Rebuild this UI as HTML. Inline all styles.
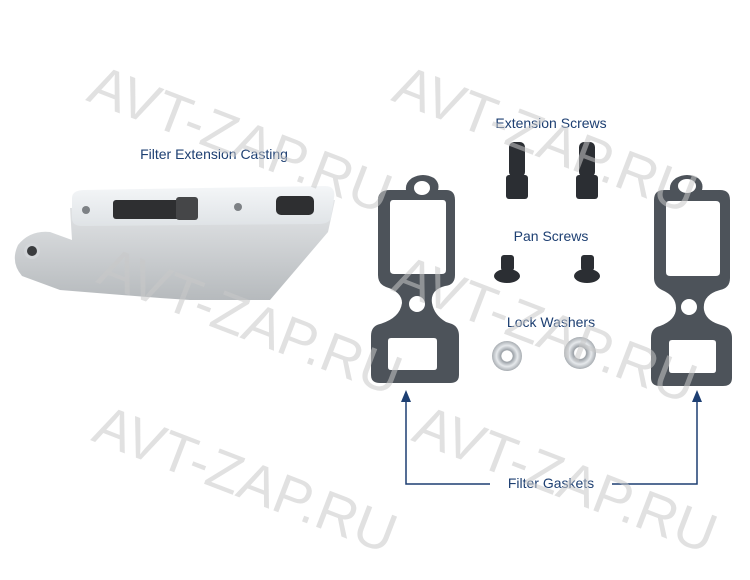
<!DOCTYPE html>
<html><head><style>
body{margin:0;background:#fff;}
svg{display:block;font-family:"Liberation Sans",sans-serif;}
</style></head><body>
<svg width="750" height="580" viewBox="0 0 750 580">
<defs>
<linearGradient id="al" x1="0" y1="0" x2="0" y2="1"><stop offset="0" stop-color="#e4e6e8"/><stop offset="1" stop-color="#b6babd"/></linearGradient>
<linearGradient id="top" x1="0" y1="0" x2="0" y2="1"><stop offset="0" stop-color="#f4f6f8"/><stop offset="1" stop-color="#dfe3e6"/></linearGradient>
<radialGradient id="wash"><stop offset="0.35" stop-color="#fff"/><stop offset="0.4" stop-color="#9aa0a6"/><stop offset="0.7" stop-color="#e6e9ec"/><stop offset="1" stop-color="#a8adb2"/></radialGradient>
</defs>
<!-- casting -->
<path d="M70 208 L335 200 L328 232 L270 300 L190 300 L160 298 L60 290 L22 276 Q10 262 18 245 Q30 230 50 232 L72 240 Z" fill="url(#al)"/>
<path d="M72 198 Q72 190 85 190 L325 186 Q336 186 334 198 L331 218 Q329 224 318 224 L82 226 Q72 226 72 218 Z" fill="url(#top)"/>
<rect x="113" y="200" width="85" height="19" rx="3" fill="#2e2f31"/>
<rect x="176" y="197" width="22" height="23" rx="3" fill="#454648"/>
<rect x="276" y="196" width="38" height="19" rx="5" fill="#2e2f31"/>
<circle cx="86" cy="210" r="4" fill="#7d8185"/>
<circle cx="238" cy="207" r="4" fill="#7d8185"/>
<circle cx="32" cy="251" r="8" fill="#d3d6d9"/><circle cx="32" cy="251" r="5" fill="#3a3c3e"/>
<!-- gaskets -->
<g fill="#4d535a" fill-rule="evenodd">
<path d="M412 178 Q423 172 434 178 Q440 183 438 190 L446 190 Q455 190 455 200 L455 275 Q455 285 445 286 Q430 290 432 303 Q434 315 446 322 L452 324 Q459 327 459 336 L459 375 Q459 383 450 383 L380 383 Q371 383 371 375 L371 336 Q371 326 380 324 Q400 318 402 303 Q402 292 386 287 Q378 284 378 275 L378 200 Q378 190 390 190 L406 190 Q405 183 412 178 Z M414 188 a8 7 0 1 0 16 0 a8 7 0 1 0 -16 0 Z M393 200 L443 200 Q446 200 446 204 L446 270 Q446 274 442 274 L394 274 Q390 274 390 270 L390 204 Q390 200 393 200 Z M409 304 a8 8 0 1 0 16 0 a8 8 0 1 0 -16 0 Z M388 341 Q388 338 391 338 L434 338 Q437 338 437 341 L437 367 Q437 370 434 370 L391 370 Q388 370 388 367 Z"/>
<path d="M676 178 Q687 172 698 178 Q704 183 702 190 L720 190 Q730 190 730 200 L730 278 Q730 288 720 290 Q702 295 704 310 Q706 320 718 324 L724 326 Q732 329 732 338 L732 378 Q732 386 723 386 L660 386 Q651 386 651 378 L651 338 Q651 328 660 326 Q676 320 676 308 Q676 296 662 290 Q654 286 654 278 L654 200 Q654 190 664 190 L670 190 Q669 183 676 178 Z M678 186 a9 7 0 1 0 18 0 a9 7 0 1 0 -18 0 Z M669 201 L716 201 Q720 201 720 205 L720 272 Q720 276 716 276 L670 276 Q666 276 666 272 L666 205 Q666 201 669 201 Z M681 307 a8 8 0 1 0 16 0 a8 8 0 1 0 -16 0 Z M669 343 Q669 340 672 340 L713 340 Q716 340 716 343 L716 370 Q716 373 713 373 L672 373 Q669 373 669 370 Z"/>
</g>
<!-- screws -->
<g fill="#2b2e33">
<rect x="509" y="142" width="16" height="35" rx="5"/><rect x="506" y="175" width="22" height="24" rx="3"/>
<rect x="579" y="142" width="16" height="35" rx="5"/><rect x="576" y="175" width="22" height="24" rx="3"/>
<rect x="501" y="255" width="13" height="16" rx="3"/><ellipse cx="507" cy="276" rx="13" ry="7"/>
<rect x="581" y="255" width="13" height="16" rx="3"/><ellipse cx="587" cy="276" rx="13" ry="7"/>
</g>
<circle cx="507" cy="356" r="15" fill="url(#wash)"/>
<circle cx="580" cy="353" r="16" fill="url(#wash)"/>
<!-- labels -->
<g fill="#1d3f72" font-size="14" text-anchor="middle">
<text x="214" y="159">Filter Extension Casting</text>
<text x="551" y="128">Extension Screws</text>
<text x="551" y="241">Pan Screws</text>
<text x="551" y="327">Lock Washers</text>
<text x="551" y="488">Filter Gaskets</text>
</g>
<g stroke="#1d3f72" stroke-width="1.5" fill="none">
<path d="M406 398 L406 484 L490 484"/><path d="M612 484 L697 484 L697 398"/>
</g>
<g fill="#1d3f72"><path d="M406 390 L401 402 L411 402 Z"/><path d="M697 390 L692 402 L702 402 Z"/></g>
<!-- watermarks -->
<g fill="#c8c8c8" fill-opacity="0.55" font-size="56" font-family="Liberation Sans,sans-serif">
<text transform="translate(85,100) rotate(21)">AVT-ZAP.RU</text>
<text transform="translate(390,100) rotate(21)">AVT-ZAP.RU</text>
<text transform="translate(95,282) rotate(21)">AVT-ZAP.RU</text>
<text transform="translate(390,290) rotate(21)">AVT-ZAP.RU</text>
<text transform="translate(90,440) rotate(21)">AVT-ZAP.RU</text>
<text transform="translate(410,440) rotate(21)">AVT-ZAP.RU</text>
</g>
</svg>
</body></html>
